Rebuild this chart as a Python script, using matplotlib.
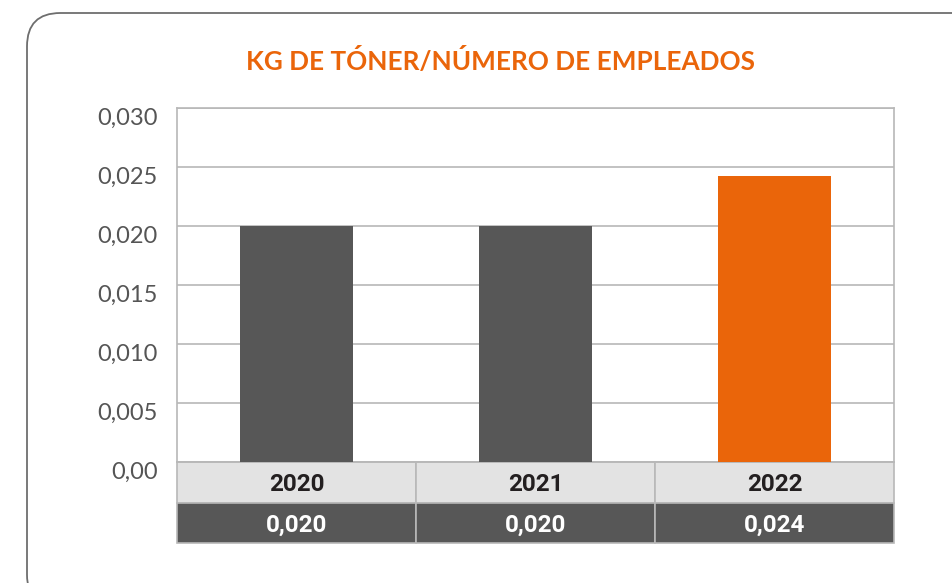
import matplotlib
matplotlib.use("Agg")
import matplotlib.pyplot as plt
import matplotlib.transforms as mtransforms
from matplotlib.patches import FancyBboxPatch

years = ["2020", "2021", "2022"]
values = [0.020, 0.020, 0.0242]
value_labels = ["0,020", "0,020", "0,024"]
bar_colors = ["#575757", "#575757", "#EA650A"]
yticks = [0.0, 0.005, 0.010, 0.015, 0.020, 0.025, 0.030]
ytick_labels = ["0,00", "0,005", "0,010", "0,015", "0,020", "0,025", "0,030"]

ORANGE = "#EA650A"
GRID = "#b8b8b8"

fig = plt.figure(figsize=(9.53, 5.83), dpi=100)

# rounded frame around the chart (runs off the right/bottom edge)
frame = FancyBboxPatch((27 / 953, -25 / 583), 1.2, (583 - 13 + 25) / 583,
                       boxstyle="round,pad=0,rounding_size=0.035",
                       transform=fig.transFigure, fill=False,
                       ec="#6e6e6e", lw=1.3, mutation_aspect=953 / 583)
fig.patches.append(frame)

ax = fig.add_axes([177 / 953, 1 - 462 / 583, 717 / 953, 354 / 583])
x = range(len(years))
ax.bar(x, values, width=0.473, color=bar_colors, zorder=3)
ax.set_xlim(-0.5, 2.5)
ax.set_ylim(0, 0.030)
ax.set_yticks(yticks)
ax.set_yticklabels(ytick_labels, fontfamily="Lato", fontweight="normal",
                   fontsize=17, color="#555555")
ax.tick_params(axis="y", length=0, pad=14)
# labels sit a little below their gridlines in the original
shift = mtransforms.ScaledTranslation(0, -0.08, fig.dpi_scale_trans)
for lbl in ax.get_yticklabels():
    lbl.set_transform(lbl.get_transform() + shift)
ax.set_xticks([])
ax.yaxis.grid(True, color=GRID, lw=1.2, zorder=0)
for s in ["left", "right", "top", "bottom"]:
    ax.spines[s].set_color(GRID)
    ax.spines[s].set_linewidth(1.2)

tbl = ax.table(cellText=[years, value_labels], cellLoc="center",
               bbox=[0, -81 / 354, 1, 81 / 354])
tbl.auto_set_font_size(False)
for (r, c), cell in tbl.get_celld().items():
    cell.set_edgecolor(GRID)
    cell.set_linewidth(1.2)
    txt = cell.get_text()
    txt.set_fontfamily("Roboto")
    txt.set_fontweight("bold")
    txt.set_fontsize(17.5)
    txt.set_verticalalignment("center_baseline")
    if r == 0:
        cell.set_facecolor("#e3e3e3")
        txt.set_color("#231f20")
    else:
        cell.set_facecolor("#575757")
        txt.set_color("white")

fig.text(500 / 953, 1 - 61 / 583, "KG DE TÓNER/NÚMERO DE EMPLEADOS",
         ha="center", va="center", color=ORANGE, fontsize=18.8,
         fontfamily="Lato", fontweight="bold")

fig.savefig("out.png", dpi=100)
